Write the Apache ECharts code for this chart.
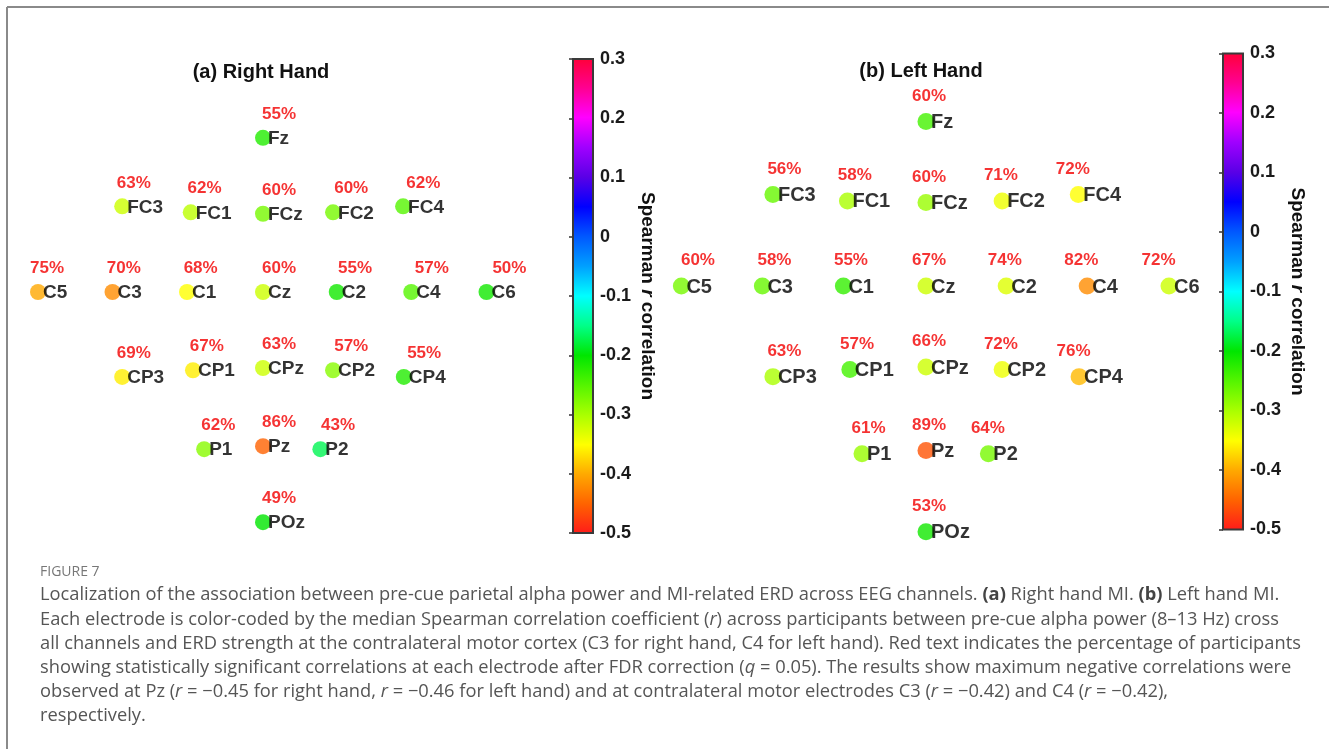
<!DOCTYPE html>
<html>
<head>
<meta charset="utf-8">
<script src="https://cdn.jsdelivr.net/npm/echarts@6/dist/echarts.min.js"></script>
<style>html,body{margin:0;padding:0;background:#fff;}#c{width:1329px;height:749px;}</style>
</head>
<body>
<div id="c"></div>
<script>
// ---- data ----
const electrodes = ['Fz','FC3','FC1','FCz','FC2','FC4','C5','C3','C1','Cz','C2','C4','C6','CP3','CP1','CPz','CP2','CP4','P1','Pz','P2','POz'];
const posX = [0, -1.89, -0.97, 0, 0.94, 1.88, -3.02, -2.02, -1.02, 0, 0.99, 1.99, 3.0, -1.89, -0.94, 0, 0.94, 1.89, -0.79, 0, 0.77, 0];
const posY = [2.07, 1.15, 1.07, 1.05, 1.07, 1.15, 0, 0, 0, 0, 0, 0, 0, -1.14, -1.05, -1.02, -1.05, -1.14, -2.11, -2.07, -2.11, -3.09];
const rightHandR   = [-0.22,-0.32,-0.31,-0.27,-0.27,-0.25,-0.40,-0.42,-0.35,-0.32,-0.21,-0.25,-0.21,-0.36,-0.36,-0.32,-0.28,-0.22,-0.28,-0.45,-0.17,-0.20];
const rightHandPct = [55,63,62,60,60,62,75,70,68,60,55,57,50,69,67,63,57,55,62,86,43,49];
const leftHandR    = [-0.24,-0.26,-0.30,-0.29,-0.34,-0.35,-0.27,-0.26,-0.23,-0.32,-0.33,-0.42,-0.32,-0.30,-0.24,-0.32,-0.34,-0.39,-0.29,-0.46,-0.27,-0.21];
const leftHandPct  = [60,56,58,60,71,72,60,58,55,67,74,82,72,63,57,66,72,76,61,89,64,53];
const panelTitles = ['(a) Right Hand', '(b) Left Hand'];
const cbarMin = -0.5, cbarMax = 0.3, cbarStep = 0.1;
const cmapColors = ['#ff1a1a','#ff6200','#ffa800','#ffff00','#aaff00','#55f500','#00e600','#00ff88','#00ffff','#00a0ff','#0058ff','#0000ff','#5a00e6','#a000ff','#ff00ff','#ff0090','#ff0038'];
const captionHead = 'FIGURE 7';
const captionLines = [
  'Localization of the association between pre-cue parietal alpha power and MI-related ERD across EEG channels. {b|(a)} Right hand MI. {b|(b)} Left hand MI.',
  'Each electrode is color-coded by the median Spearman correlation coefficient ({i|r}) across participants between pre-cue alpha power (8\u201313 Hz) cross',
  'all channels and ERD strength at the contralateral motor cortex (C3 for right hand, C4 for left hand). Red text indicates the percentage of participants',
  'showing statistically significant correlations at each electrode after FDR correction ({i|q} = 0.05). The results show maximum negative correlations were',
  'observed at Pz ({i|r} = \u22120.45 for right hand, {i|r} = \u22120.46 for left hand) and at contralateral motor electrodes C3 ({i|r} = \u22120.42) and C4 ({i|r} = \u22120.42),',
  'respectively.'
];

// ---- build ----
const FONT = 'Arial';
const CAPFONT = 'Open Sans';
function circleSeries(rVals, pctVals, gi, size, nameSize) {
  return {
    type: 'scatter', xAxisIndex: gi, yAxisIndex: gi, symbol: 'circle', symbolSize: size,
    silent: true, z: 3,
    data: electrodes.map((n, i) => ({ name: n, value: [posX[i], posY[i], rVals[i], pctVals[i]] })),
    label: {
      show: true, position: [size / 2 + 5, size / 2 + 1], align: 'left', verticalAlign: 'middle',
      formatter: p => p.name, color: '#000', fontWeight: 'bold', fontSize: nameSize, fontFamily: FONT
    }
  };
}
function pctSeries(rVals, pctVals, gi, dxFn, dy, fs) {
  return {
    type: 'scatter', xAxisIndex: gi, yAxisIndex: gi, symbol: 'circle', symbolSize: 1,
    silent: true, z: 4, itemStyle: { color: 'rgba(0,0,0,0)' },
    data: electrodes.map((n, i) => ({
      name: n, value: [posX[i], posY[i], rVals[i], pctVals[i]],
      label: { offset: [dxFn(posX[i]), dy] }
    })),
    label: {
      show: true, position: 'inside', align: 'center', verticalAlign: 'middle',
      formatter: p => p.value[3] + '%', color: '#f20000', fontWeight: 'bold', fontSize: fs, fontFamily: FONT
    }
  };
}
const stops = cmapColors.map((c, i) => ({ offset: i / (cmapColors.length - 1), color: c }));
function cbarSeries(gi) {
  return {
    type: 'custom', xAxisIndex: gi, yAxisIndex: gi, silent: true, z: 2,
    data: [[0, cbarMin, 1, cbarMax]],
    renderItem: function (params, api) {
      const p0 = api.coord([api.value(0), api.value(1)]);
      const p1 = api.coord([api.value(2), api.value(3)]);
      return {
        type: 'rect',
        shape: { x: p0[0], y: p1[1], width: p1[0] - p0[0], height: p0[1] - p1[1] },
        style: { fill: new echarts.graphic.LinearGradient(0, 1, 0, 0, stops), stroke: '#3a3a3a', lineWidth: 2 }
      };
    }
  };
}
function cbarY(gi) {
  return {
    gridIndex: gi, type: 'value', min: cbarMin, max: cbarMax, interval: cbarStep, position: 'right',
    axisLine: { show: false }, splitLine: { show: false },
    axisTick: { show: true, inside: true, length: 4, lineStyle: { color: '#333', width: 1.5 } },
    axisLabel: { color: '#1a1a1a', fontWeight: 'bold', fontSize: 18, margin: 7, fontFamily: FONT },
    name: 'Spearman {i|r} correlation', nameLocation: 'middle', nameRotate: -90, nameGap: 45,
    nameTextStyle: { color: '#111', fontWeight: 'bold', fontSize: 19, fontFamily: FONT,
      rich: { i: { fontStyle: 'italic', fontWeight: 'bold', fontSize: 19, color: '#111', fontFamily: FONT } } }
  };
}
const hiddenX = gi => ({ gridIndex: gi, type: 'value', min: -3.5, max: 3.5, show: false });
const hiddenY = gi => ({ gridIndex: gi, type: 'value', min: -4, max: 3.5, show: false });

const graphics = [
  { type: 'line', shape: { x1: 7, y1: 7, x2: 1329, y2: 7 }, style: { stroke: '#8a8a8a', lineWidth: 2 } },
  { type: 'line', shape: { x1: 7, y1: 7, x2: 7, y2: 749 }, style: { stroke: '#8a8a8a', lineWidth: 2 } },
  { type: 'text', x: 40, y: 572, style: { text: captionHead, fill: '#777', fontSize: 14, fontFamily: CAPFONT, verticalAlign: 'middle' } }
];
const lineY = [595, 619.5, 643.5, 667.5, 691.5, 716];
captionLines.forEach((t, i) => {
  graphics.push({ type: 'text', x: 40, y: lineY[i], style: {
    text: t, fill: '#555', fontSize: 18.3, fontFamily: CAPFONT, verticalAlign: 'middle', align: 'left',
    rich: { b: { fontWeight: 'bold', fontSize: 18.3, fill: '#444', fontFamily: CAPFONT },
            i: { fontStyle: 'italic', fontSize: 18.3, fill: '#555', fontFamily: CAPFONT } }
  }});
});

const chart = echarts.init(document.getElementById('c'), null, { renderer: 'canvas' });
chart.setOption({
  animation: false,
  backgroundColor: '#fff',
  title: [
    { text: panelTitles[0], left: 256, top: 57, textAlign: 'center', textStyle: { fontSize: 20, fontWeight: 'bold', color: '#111', fontFamily: FONT } },
    { text: panelTitles[1], left: 916, top: 56, textAlign: 'center', textStyle: { fontSize: 20, fontWeight: 'bold', color: '#111', fontFamily: FONT } }
  ],
  grid: [
    { left: 2.25, top: 31.25, width: 521.5, height: 558.75 },
    { left: 642.5, top: 7.75, width: 567, height: 596.25 },
    { left: 573, top: 59, width: 20, height: 474 },
    { left: 1223, top: 53.5, width: 20, height: 476 }
  ],
  xAxis: [hiddenX(0), hiddenX(1), { gridIndex: 2, type: 'value', min: 0, max: 1, show: false }, { gridIndex: 3, type: 'value', min: 0, max: 1, show: false }],
  yAxis: [hiddenY(0), hiddenY(1), cbarY(2), cbarY(3)],
  visualMap: [{ type: 'continuous', show: false, min: cbarMin, max: cbarMax, dimension: 2, seriesIndex: [0, 2], inRange: { color: cmapColors } }],
  series: [
    circleSeries(rightHandR, rightHandPct, 0, 16, 19),
    pctSeries(rightHandR, rightHandPct, 0, x => 16 + 2.3 * x, -23.5, 17),
    circleSeries(leftHandR, leftHandPct, 1, 17, 20),
    pctSeries(leftHandR, leftHandPct, 1, x => 3 - 4.5 * x, -25.5, 17),
    cbarSeries(2),
    cbarSeries(3)
  ],
  graphic: graphics
});
</script>
</body>
</html>
